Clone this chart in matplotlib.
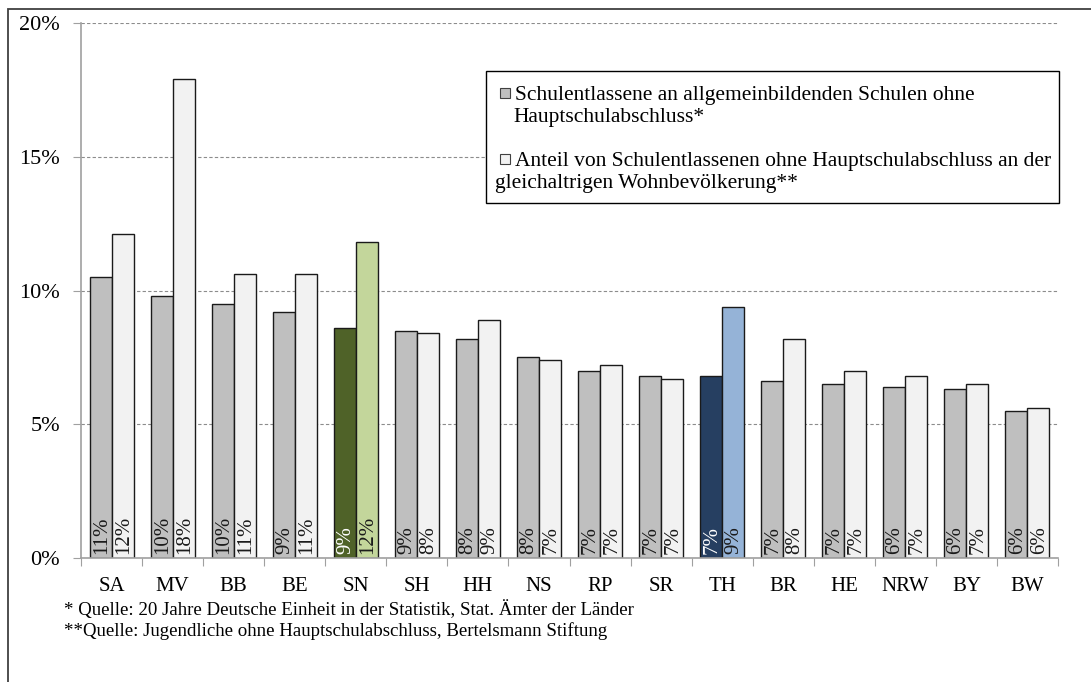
import matplotlib.pyplot as plt
import numpy as np
from matplotlib.patches import Rectangle

plt.rcParams["font.family"] = ["Liberation Serif", "DejaVu Serif"]

STATES = ["SA", "MV", "BB", "BE", "SN", "SH", "HH", "NS", "RP", "SR", "TH", "BR", "HE", "NRW", "BY", "BW"]
SCHOOL_LEAVERS = [10.5, 9.8, 9.5, 9.2, 8.6, 8.5, 8.2, 7.5, 7.0, 6.8, 6.8, 6.6, 6.5, 6.4, 6.3, 5.5]
SHARE_OF_AGE_GROUP = [12.1, 17.9, 10.6, 10.6, 11.8, 8.4, 8.9, 7.4, 7.2, 6.7, 9.4, 8.2, 7.0, 6.8, 6.5, 5.6]

LEGEND_LABELS = [
    ["Schulentlassene an allgemeinbildenden Schulen ohne", "Hauptschulabschluss*"],
    ["Anteil von Schulentlassenen ohne Hauptschulabschluss an der", "gleichaltrigen Wohnbevölkerung**"],
]
FOOTNOTES = [
    "* Quelle: 20 Jahre Deutsche Einheit in der Statistik, Stat. Ämter der Länder",
    "**Quelle: Jugendliche ohne Hauptschulabschluss, Bertelsmann Stiftung",
]

GREY = "#bfbfbf"
LIGHT = "#f2f2f2"
HIGHLIGHT = {"SN": ("#4f6228", "#c3d69b"), "TH": ("#263f61", "#95b3d7")}
DARK_FILLS = ("#4f6228", "#263f61")
GRID = "#8c8c8c"
AXIS = "#a0a0a0"

W, H = 1091, 682


def fx(px):
    return px / W


def fy(py):
    return 1 - py / H


fig = plt.figure(figsize=(W / 100, H / 100), dpi=100, facecolor="white")
ax = fig.add_axes([fx(81), fy(558), (1058 - 81) / W, (558 - 23) / H])

x = np.arange(len(STATES))
bw = 0.36
for i, state in enumerate(STATES):
    c1, c2 = HIGHLIGHT.get(state, (GREY, LIGHT))
    b1 = ax.bar(x[i] - bw / 2, SCHOOL_LEAVERS[i], bw, color=c1, edgecolor="#1a1a1a", linewidth=1.0, zorder=3)
    b2 = ax.bar(x[i] + bw / 2, SHARE_OF_AGE_GROUP[i], bw, color=c2, edgecolor="#1a1a1a", linewidth=1.0, zorder=3)
    for bars, val, col in ((b1, SCHOOL_LEAVERS[i], c1), (b2, SHARE_OF_AGE_GROUP[i], c2)):
        txt_col = "white" if col in DARK_FILLS else "#1a1a1a"
        ax.annotate(f"{int(val + 0.5)}%", (bars[0].get_x() + bw / 2, 0), xytext=(0.5, 3), textcoords="offset points",
                    rotation=90, ha="center", va="bottom", fontsize=15, color=txt_col, zorder=4)

ax.set_xlim(-0.5, len(STATES) - 0.5)
ax.set_ylim(0, 20)
ax.set_yticks([0, 5, 10, 15, 20])
ax.set_yticklabels([f"{v}%" for v in [0, 5, 10, 15, 20]], fontsize=16)
ax.yaxis.grid(True, color=GRID, linestyle=(0, (3, 2)), linewidth=0.8, zorder=0)
ax.tick_params(axis="y", length=6, color=AXIS, pad=9)

ax.set_xticks(np.arange(len(STATES) + 1) - 0.5)
ax.set_xticklabels([])
ax.set_xticks(x, minor=True)
ax.set_xticklabels(STATES, minor=True, fontsize=15)
ax.tick_params(axis="x", which="major", length=6, color=AXIS)
ax.tick_params(axis="x", which="minor", length=0, pad=14)

for side in ("top", "right"):
    ax.spines[side].set_visible(False)
for side in ("left", "bottom"):
    ax.spines[side].set_color(AXIS)
    ax.spines[side].set_linewidth(1.2)
ax.spines["bottom"].set_zorder(5)

# legend box drawn by hand so the swatches sit on the first text line
fig.add_artist(Rectangle((fx(486), fy(203)), (1059 - 486) / W, (203 - 71) / H, transform=fig.transFigure,
                         facecolor="white", edgecolor="black", linewidth=1.0, zorder=10))
for (line1, line2), color, y0, x2 in zip(LEGEND_LABELS, (GREY, LIGHT), (93, 159), (513, 495)):
    fig.add_artist(Rectangle((fx(500), fy(y0 + 5)), 10 / W, 10 / H, transform=fig.transFigure,
                             facecolor=color, edgecolor="#404040", linewidth=0.8, zorder=11))
    fig.text(fx(515), fy(y0), line1, fontsize=15.5, va="center_baseline", ha="left", zorder=11)
    fig.text(fx(x2), fy(y0 + 22), line2, fontsize=15.5, va="center_baseline", ha="left", zorder=11)

fig.text(fx(64), fy(610), FOOTNOTES[0], fontsize=13.6, va="center", ha="left")
fig.text(fx(64), fy(631), FOOTNOTES[1], fontsize=13.6, va="center", ha="left")

fig.add_artist(Rectangle((fx(8), -0.05), 1.1, fy(9) + 0.05, transform=fig.transFigure, fill=False,
                         edgecolor="#404040", linewidth=1.3))

fig.savefig("out.png", dpi=100, facecolor="white")
